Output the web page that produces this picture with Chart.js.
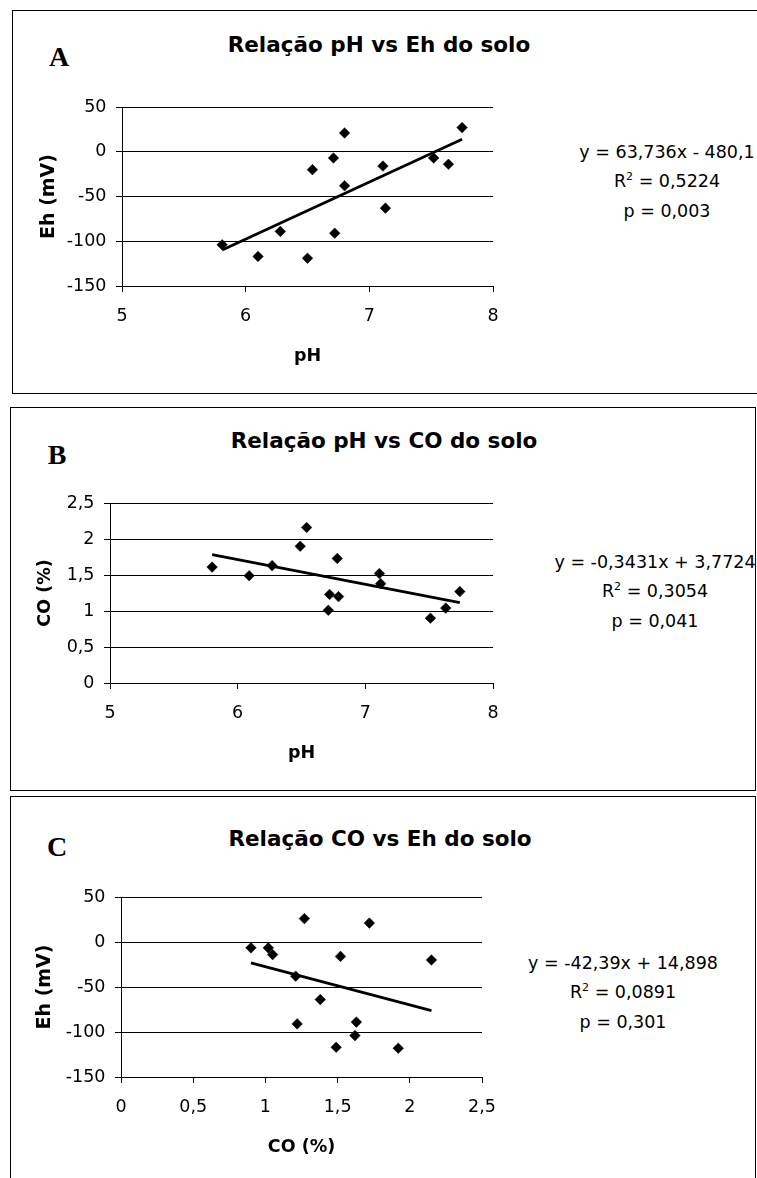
<!DOCTYPE html>
<html>
<head>
<meta charset="utf-8">
<script src="https://cdn.jsdelivr.net/npm/chart.js@4.4.0/dist/chart.umd.min.js"></script>
<style>
  body {
    margin: 0;
    background: #fff;
    width: 757px;
    height: 1178px;
    overflow: hidden;
    position: relative;
    font-family: "DejaVu Sans", sans-serif;
    color: #000;
  }
  .caixa {
    position: absolute;
    border: 1px solid #000;
    box-sizing: border-box;
  }
  canvas {
    position: absolute;
    left: 0;
  }
  .lbl {
    position: absolute;
    transform: translate(-50%, -50%);
    white-space: nowrap;
  }
  .letra {
    font-family: "Liberation Serif", serif;
    font-weight: bold;
    font-size: 28px;
  }
  .titulo {
    font-weight: bold;
    font-size: 21.5px;
  }
  .eq {
    position: absolute;
    transform: translateX(-50%);
    text-align: center;
    font-size: 17.5px;
    line-height: 29.5px;
    white-space: nowrap;
  }
  .eq sup {
    font-size: 11px;
    line-height: 0;
    vertical-align: 7px;
  }
</style>
</head>
<body>
  <!-- Painel A -->
  <div class="caixa" style="left:12px;top:10px;width:760px;height:384px"></div>
  <div class="lbl letra" style="left:59px;top:57px">A</div>
  <div class="lbl titulo" style="left:379px;top:44px">Relação pH vs Eh do solo</div>
  <div class="eq" style="left:667px;top:137.5px">
    y = 63,736x - 480,1<br>R<sup>2</sup> = 0,5224<br>p = 0,003
  </div>
  <canvas id="chartA" width="757" height="383" style="top:10px"></canvas>

  <!-- Painel B -->
  <div class="caixa" style="left:10px;top:407px;width:746px;height:384px"></div>
  <div class="lbl letra" style="left:57px;top:455px">B</div>
  <div class="lbl titulo" style="left:384px;top:440px">Relação pH vs CO do solo</div>
  <div class="eq" style="left:655px;top:547.5px">
    y = -0,3431x + 3,7724<br>R<sup>2</sup> = 0,3054<br>p = 0,041
  </div>
  <canvas id="chartB" width="757" height="383" style="top:407px"></canvas>

  <!-- Painel C -->
  <div class="caixa" style="left:10px;top:796px;width:746px;height:400px"></div>
  <div class="lbl letra" style="left:57px;top:847px">C</div>
  <div class="lbl titulo" style="left:380px;top:838px">Relação CO vs Eh do solo</div>
  <div class="eq" style="left:623px;top:948.5px">
    y = -42,39x + 14,898<br>R<sup>2</sup> = 0,0891<br>p = 0,301
  </div>
  <canvas id="chartC" width="757" height="382" style="top:796px"></canvas>

<script>
// Dados do painel A (pH x Eh)
const phA = [5.81, 6.10, 6.28, 6.50, 6.54, 6.71, 6.72, 6.80, 6.80, 7.11, 7.13, 7.52, 7.64, 7.75];
const ehA = [-104, -117, -89, -119, -20, -7, -91, 21, -38, -16, -63, -7, -14, 27];
const retaA = [63.736, -480.1];
const ticksXA = [5, 6, 7, 8];
const ticksYA = [-150, -100, -50, 0, 50];

// Dados do painel B (pH x CO)
const phB = [5.80, 6.09, 6.27, 6.49, 6.54, 6.78, 6.72, 6.79, 6.71, 7.11, 7.12, 7.51, 7.63, 7.74];
const coB = [1.61, 1.49, 1.63, 1.90, 2.16, 1.73, 1.23, 1.20, 1.01, 1.52, 1.38, 0.90, 1.04, 1.27];
const retaB = [-0.3431, 3.7724];
const ticksXB = [5, 6, 7, 8];
const ticksYB = [0, 0.5, 1, 1.5, 2, 2.5];

// Dados do painel C (CO x Eh)
const coC = [0.90, 1.02, 1.05, 1.27, 1.21, 1.22, 1.38, 1.52, 1.49, 1.63, 1.62, 1.72, 1.92, 2.15];
const ehC = [-6.5, -6.5, -14, 26, -38, -91, -64, -16, -117, -89, -104, 21, -118, -20];
const retaC = [-42.39, 14.898];
const ticksXC = [0, 0.5, 1, 1.5, 2, 2.5];
const ticksYC = [-150, -100, -50, 0, 50];

Chart.defaults.font.family = "'DejaVu Sans', sans-serif";
Chart.defaults.color = "#000";

// Troca o ponto decimal por vírgula
function virgula(valor) {
  return String(valor).replace(".", ",");
}

// Função para criar um painel de dispersão com linha de tendência
function criarGrafico(canvasId, xs, ys, reta, ticksX, ticksY, tituloX, tituloY, area) {
  const xMin = Math.min(...xs);
  const xMax = Math.max(...xs);
  const linha = [
    { x: xMin, y: reta[0] * xMin + reta[1] },
    { x: xMax, y: reta[0] * xMax + reta[1] },
  ];

  const ctx = document.getElementById(canvasId).getContext("2d");
  return new Chart(ctx, {
    type: "scatter",
    data: {
      datasets: [
        {
          data: xs.map((x, i) => ({ x: x, y: ys[i] })),
          pointStyle: "rectRot",
          pointRadius: 5.3,
          backgroundColor: "#000",
          borderColor: "#000",
          borderWidth: 0.5,
        },
        {
          data: linha,
          showLine: true,
          borderColor: "#000",
          borderWidth: 2.8,
          pointRadius: 0,
        },
      ],
    },
    options: {
      responsive: false,
      animation: false,
      events: [],
      layout: {
        padding: { left: 0, top: area.top, right: 757 - area.right, bottom: 0 },
      },
      plugins: {
        legend: { display: false },
        tooltip: { enabled: false },
      },
      scales: {
        x: {
          type: "linear",
          min: ticksX[0],
          max: ticksX[ticksX.length - 1],
          afterBuildTicks: (s) => {
            s.ticks = ticksX.map((v) => ({ value: v }));
          },
          ticks: {
            callback: virgula,
            font: { size: 17.5 },
            padding: 14,
            maxRotation: 0,
            autoSkip: false,
          },
          grid: { drawOnChartArea: false, tickLength: 6, color: "#000" },
          border: { color: "#000", width: 1 },
          title: {
            display: true,
            text: tituloX,
            font: { size: 17.5, weight: "bold" },
            padding: { top: 0, bottom: area.padTitX },
          },
          afterFit: (s) => {
            s.height = area.h - area.bottom;
          },
        },
        y: {
          type: "linear",
          min: ticksY[0],
          max: ticksY[ticksY.length - 1],
          afterBuildTicks: (s) => {
            s.ticks = ticksY.map((v) => ({ value: v }));
          },
          ticks: {
            callback: virgula,
            font: { size: 17.5 },
            padding: 9.5,
            autoSkip: false,
          },
          grid: { tickLength: 6, color: "#000", lineWidth: 1 },
          border: { color: "#000", width: 1 },
          title: {
            display: true,
            text: tituloY,
            font: { size: area.fonteTitY, weight: "bold" },
            padding: { top: area.padTitY, bottom: 0 },
          },
          afterFit: (s) => {
            s.width = area.left;
          },
        },
      },
    },
  });
}

criarGrafico("chartA", phA, ehA, retaA, ticksXA, ticksYA, "pH", "Eh (mV)",
  { left: 122, right: 493, top: 97, bottom: 276, h: 383, padTitX: 26.5, padTitY: 37.6, fonteTitY: 19 });
criarGrafico("chartB", phB, coB, retaB, ticksXB, ticksYB, "pH", "CO (%)",
  { left: 110, right: 493, top: 96, bottom: 276, h: 383, padTitX: 26.5, padTitY: 35, fonteTitY: 17.5 });
criarGrafico("chartC", coC, ehC, retaC, ticksXC, ticksYC, "CO (%)", "Eh (mV)",
  { left: 121, right: 482, top: 101, bottom: 281, h: 382, padTitX: 20.5, padTitY: 33.6, fonteTitY: 19 });
</script>
</body>
</html>
